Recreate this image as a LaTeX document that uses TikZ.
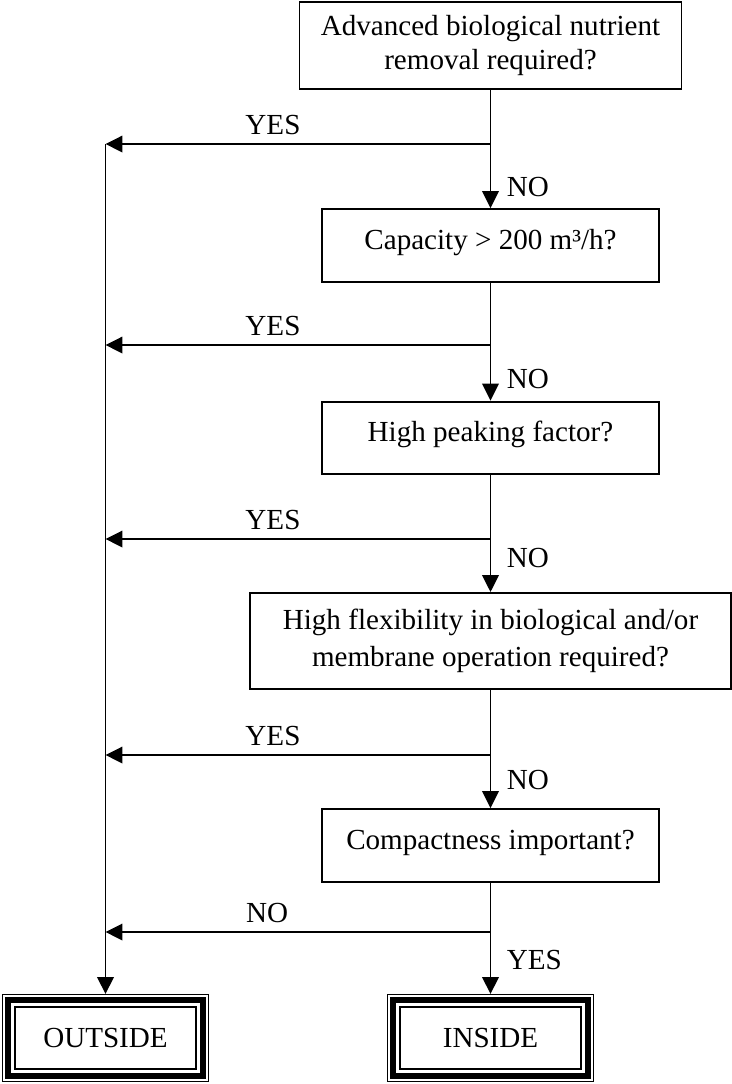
\documentclass[tikz,border=0pt]{standalone}
\usepackage{fontspec}
\setmainfont{Liberation Serif}
\usetikzlibrary{arrows.meta}

\begin{document}
\begin{tikzpicture}[x=0.4125pt,y=-0.4125pt,
  font=\fontsize{12}{14.4}\selectfont,
  box/.style={draw,line width=0.8pt,align=center,inner sep=0pt},
  single/.style={box,minimum width=139pt,text height=16.5pt,text depth=13.5pt},
  final/.style={draw,line width=0.8pt,minimum width=74.6pt,minimum height=25.5pt,outer sep=5.4pt},
  arr/.style={line width=0.8pt,-{Triangle[length=7pt,width=6.8pt]}}]
  \useasboundingbox (0,0) rectangle (731,1084);

  % questions
  \node[box,minimum width=157.6pt,minimum height=35.9pt] (q1) at (490.5,45.5)
    {Advanced biological nutrient\\removal required?};
  \node[single] (q2) at (490.5,245.5) {Capacity > 200 m³/h?};
  \node[single] (q3) at (490.5,438) {High peaking factor?};
  \node[box,minimum width=198.4pt,minimum height=39.6pt] (q4) at (490.5,641)
    {High flexibility in biological and/or\\[0.9pt]membrane operation required?};
  \node[single] (q5) at (490.5,845.5) {Compactness important?};

  % outcomes
  \node[final] (outside) at (105.5,1038) {OUTSIDE};
  \node[final] (inside) at (490.5,1038) {INSIDE};
  \foreach \n in {outside,inside} {
    \draw[line width=0.6pt] ([shift={(0.3pt,-0.3pt)}]\n.north west) rectangle ([shift={(-0.3pt,0.3pt)}]\n.south east);
    \draw[line width=2.4pt] ([shift={(2.5pt,-2.5pt)}]\n.north west) rectangle ([shift={(-2.5pt,2.5pt)}]\n.south east);
  }

  % main line
  \draw[arr] (q1) -- (q2) node[pos=.82,right=3pt] {NO};
  \draw[arr] (q2) -- (q3) node[pos=.82,right=3pt] {NO};
  \draw[arr] (q3) -- (q4) node[pos=.71,right=3pt] {NO};
  \draw[arr] (q4) -- (q5) node[pos=.76,right=3pt] {NO};
  \draw[arr] (q5) -- (inside) node[pos=.69,right=3pt] {YES};

  % branches to the left
  \foreach \y/\t/\p in {144/YES/.565,345/YES/.565,539/YES/.565,755/YES/.565,932/NO/.58} {
    \coordinate (r\y) at (490.5,\y);
    \coordinate (l\y) at (105.5,\y);
    \draw[arr] (r\y) -- (l\y) node[above,pos=\p] {\t};
  }
  \draw[arr] (l144) -- (outside);
\end{tikzpicture}
\end{document}
